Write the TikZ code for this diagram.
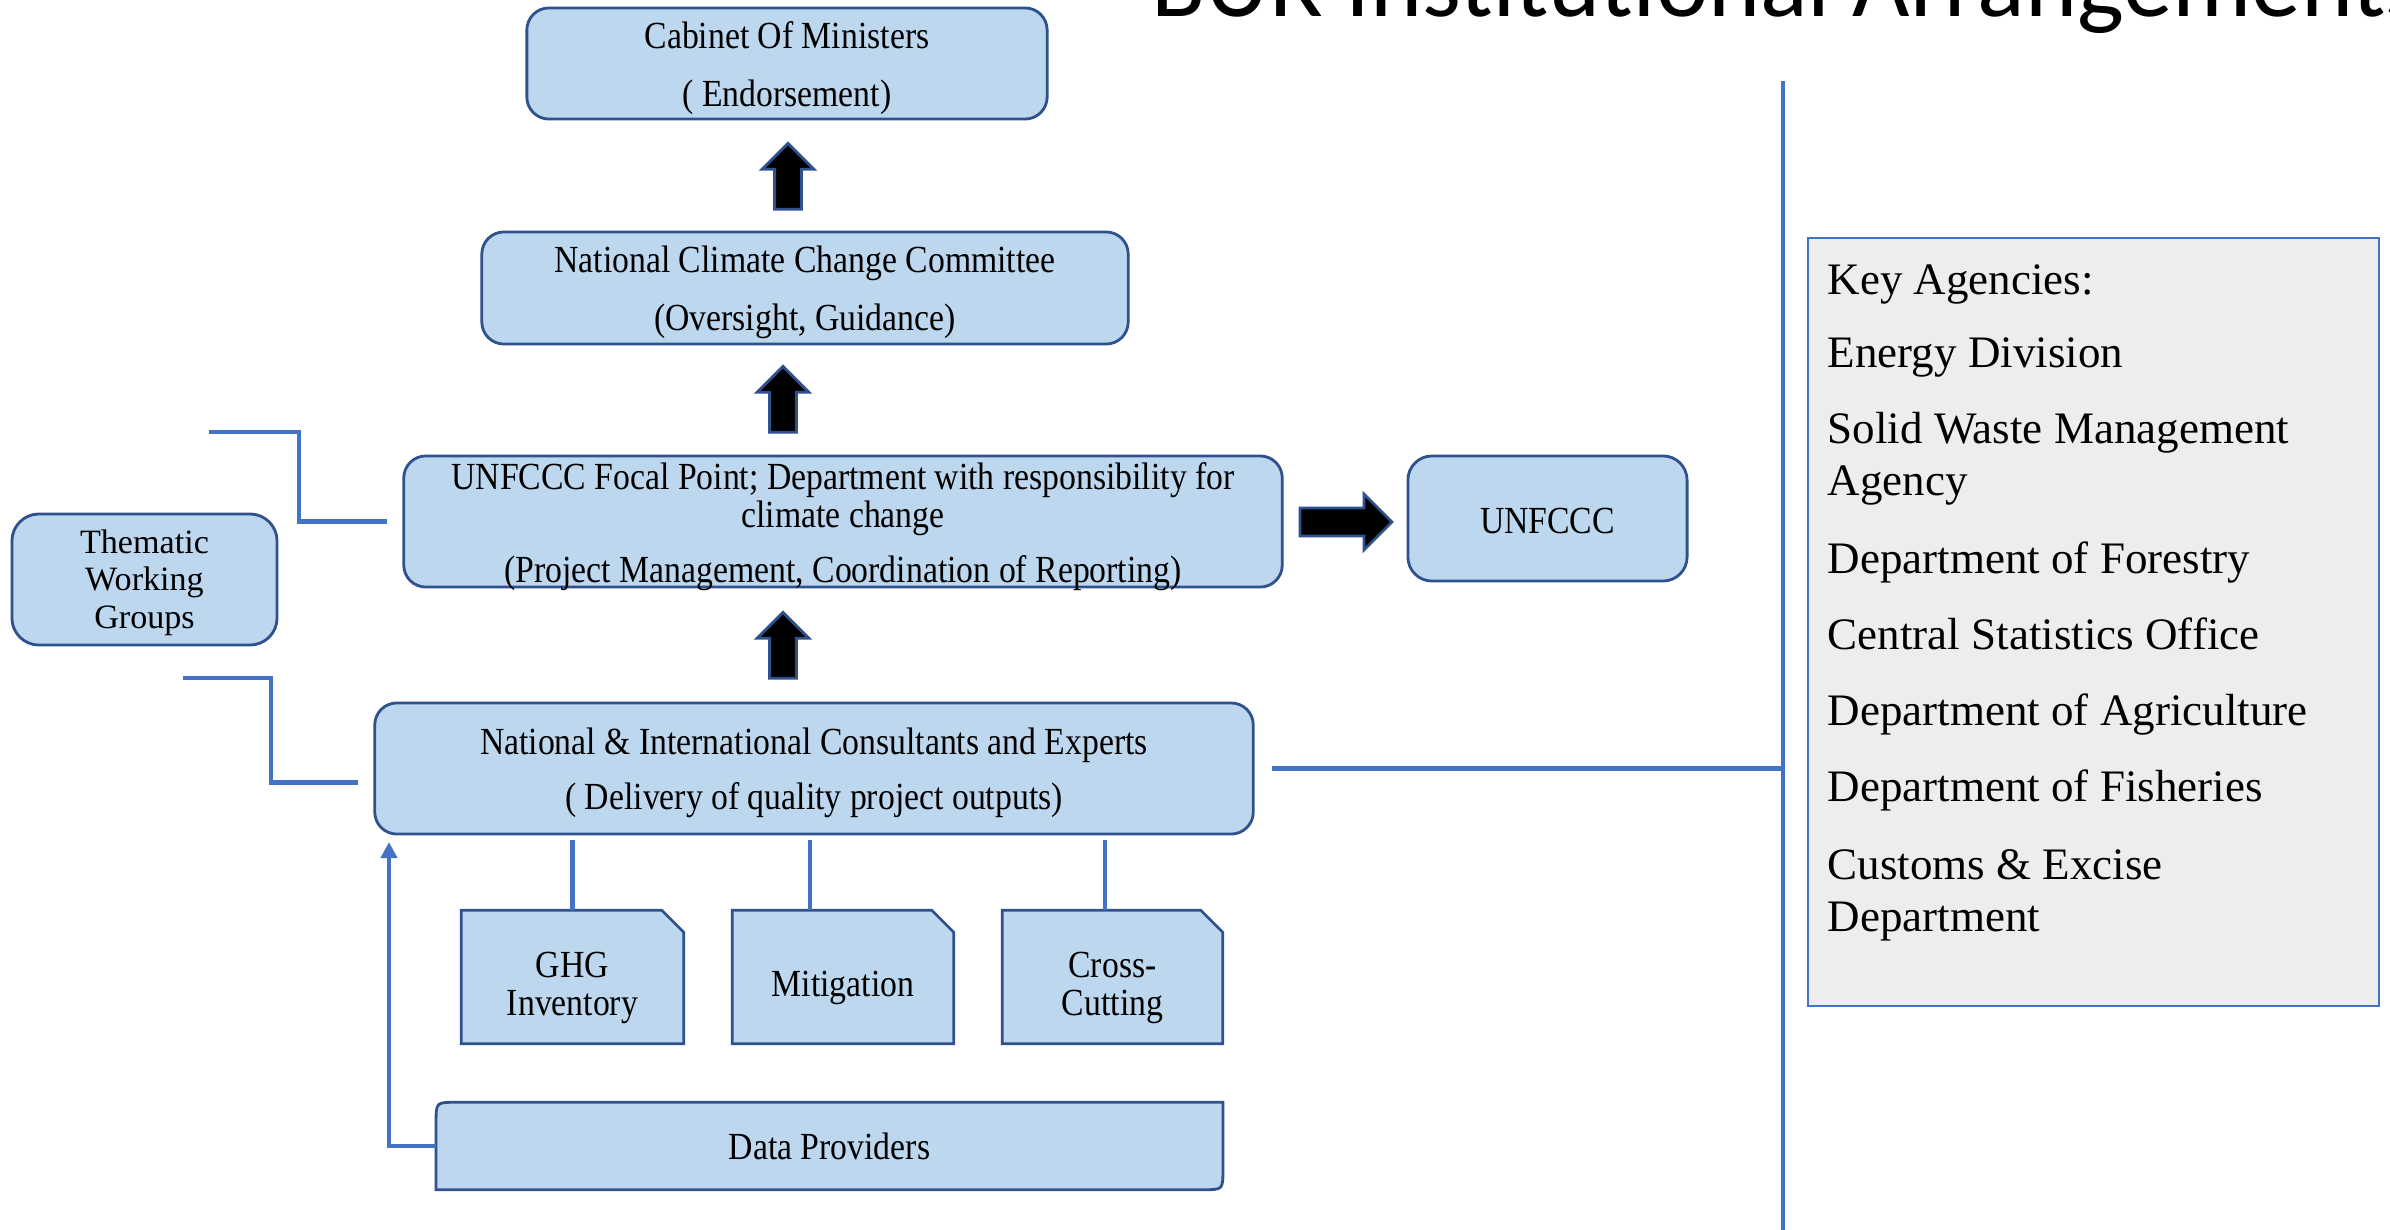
\documentclass[tikz,border=0pt]{standalone}
\usepackage{fontspec}
\setmainfont{Liberation Serif}
\newfontfamily\titlefont{Carlito}
\newfontfamily\narrowserif[FakeStretch=0.88]{Liberation Serif}
\usetikzlibrary{shapes.arrows,arrows.meta,calc}
\definecolor{boxfill}{HTML}{BDD7EE}
\definecolor{boxline}{HTML}{2F528F}
\definecolor{conn}{HTML}{4472C4}
\definecolor{keyfill}{HTML}{EDEDED}
\newcommand\bxfont{\narrowserif\fontsize{10.9}{10.8}\selectfont\lineskiplimit=-6pt\lineskip=0pt}
\newcommand\twfont{\fontsize{9.7}{10.8}\selectfont}
\newcommand\kyfont{\fontsize{12.8}{14.8}\selectfont}
\pgfdeclarelayer{background}
\pgfdeclarelayer{canvas}
\pgfsetlayers{canvas,background,main}
\begin{document}
\begin{tikzpicture}[x=0.01cm,y=-0.01cm,
  box/.style={draw=boxline, fill=boxfill, line width=0.8pt, rounded corners=0.22cm,
              inner sep=0pt, align=center, font=\bxfont},
  plainbox/.style={inner sep=0pt, align=center, font=\bxfont},
  boxshape/.style={draw=boxline, fill=boxfill, line width=0.8pt},
  link/.style={draw=conn, line width=1.15pt},
  blockarrow/.style={single arrow, draw=boxline, fill=black, line width=0.8pt,
              inner xsep=0pt, single arrow tip angle=90},
  uparrow/.style={blockarrow, rotate=90, inner ysep=0.12cm, minimum height=0.66cm,
              single arrow head extend=0.125cm},
  keytext/.style={anchor=base west, inner sep=0pt, font=\kyfont},
]
\useasboundingbox (0,0) rectangle (2390,1230);
\begin{pgfonlayer}{canvas}
  \fill[white] (0,0) rectangle (2390,1230);
\end{pgfonlayer}

% title (cut at the top of the page)
\begin{scope}
  \clip (0,0) rectangle (2390,1230);
  \node[anchor=base west, inner sep=0pt, font=\titlefont\fontsize{28.2}{30}\selectfont] (title) at (1151,17) {BUR Institutional Arrangements};
\end{scope}

% main boxes
\node[box, minimum width=5.20cm, minimum height=1.11cm] (cab) at (787,63.5)
  {\rule{0pt}{10.2pt}Cabinet Of Ministers\\[5.7pt]( Endorsement)};
\node[box, minimum width=6.46cm, minimum height=1.12cm] (nccc) at (805,288)
  {\rule{0pt}{10.2pt}National Climate Change Committee\\[5.7pt](Oversight, Guidance)};
\node[plainbox, minimum width=8.78cm, minimum height=1.31cm] (focal) at (843,521.5)
  {\rule{0pt}{10.6pt}UNFCCC Focal Point; Department with responsibility for\\climate change\\[4.8pt](Project Management, Coordination of Reporting)};
\node[box, rounded corners=0.24cm, minimum width=2.79cm, minimum height=1.25cm] (unfccc) at (1547.5,518.5)
  {\rule{0pt}{8.9pt}UNFCCC};
\node[box, minimum width=8.78cm, minimum height=1.31cm] (cons) at (814,768.5)
  {\rule{0pt}{10.2pt}National \& International Consultants and Experts\\[4.8pt]( Delivery of quality project outputs)};
\node[box, font=\twfont, rounded corners=0.27cm, minimum width=2.65cm, minimum height=1.31cm] (tw) at (144.5,579.5)
  {\rule{0pt}{8.6pt}Thematic\\Working\\Groups};

% note boxes and data providers (shapes drawn on background)
\node[plainbox, minimum width=2.21cm, minimum height=1.32cm] (ghg) at (572.5,977) {\rule{0pt}{13.2pt}GHG\\Inventory};
\node[plainbox, minimum width=2.20cm, minimum height=1.32cm] (mit) at (843,977) {\rule{0pt}{13.7pt}Mitigation};
\node[plainbox, minimum width=2.19cm, minimum height=1.32cm] (cross) at (1112.5,977) {\rule{0pt}{13.2pt}Cross-\\Cutting};
\node[plainbox, minimum width=7.85cm, minimum height=0.86cm] (dp) at (829.5,1146) {Data Providers};
\begin{pgfonlayer}{background}
  \filldraw[boxshape, rounded corners=0.22cm] ([xshift=-4.39cm,yshift=-0.655cm]focal.center)
    rectangle ([xshift=4.39cm,yshift=0.655cm]focal.center);
  \foreach \n in {ghg,mit,cross} {
    \filldraw[boxshape] (\n.south west) -- (\n.north west) -- ([xshift=-0.22cm]\n.north east)
      -- ([yshift=-0.22cm]\n.north east) -- (\n.south east) -- cycle;
  }
  \filldraw[boxshape] ([yshift=-0.2cm]dp.north west) .. controls (dp.north west) .. ([xshift=0.2cm]dp.north west)
    -- (dp.north east) -- ([yshift=0.2cm]dp.south east) .. controls (dp.south east) .. ([xshift=-0.2cm]dp.south east)
    -- (dp.south west) -- cycle;
\end{pgfonlayer}

% block arrows
\node[uparrow] (a1) at (788,183) {};
\node[uparrow] (a2) at (783,406) {};
\node[uparrow] (a3) at (783,652) {};
\node[blockarrow, inner ysep=0.125cm, minimum height=0.92cm, single arrow head extend=0.14cm] (a4) at (1339,522) {};

% thin connectors
\coordinate (e1) at (209,432);
\coordinate (e2) at (183,678);
\draw[link] (e1) -- ++(90,0) |- ([xshift=-0.16cm]focal.west);
\draw[link] (e2) -- ++(88,0) |- ([xshift=-0.15cm,yshift=-0.14cm]cons.west);
\draw[link] (ghg.north) -- ++(0,-70);
\draw[link] ([xshift=-0.33cm]mit.north) -- ++(0,-70);
\draw[link] ([xshift=-0.075cm]cross.north) -- ++(0,-70);
\coordinate (fbtip) at (389,842);
\draw[link, -{Triangle[width=4.6pt,length=4.6pt]}] (dp.west) -| (fbtip);

% right side
\coordinate (vtop) at (1783,81);
\coordinate (vbot) at (1783,1230);
\draw[link, line width=1.4pt] (vtop) -- (vbot);
\draw[link] ([xshift=0.17cm]cons.east) -- (cons.east -| vtop);

\node[draw=conn, fill=keyfill, line width=0.6pt, minimum width=5.71cm, minimum height=7.68cm, inner sep=0pt] (keybox) at (2093.5,622) {};
\foreach \t/\y [count=\i] in {Key Agencies:/294, Energy Division/367, Solid Waste Management/443, Agency/495,
  Department of Forestry/573, Central Statistics Office/649, Department of Agriculture/725,
  Department of Fisheries/801, Customs \& Excise/879, Department/931} {
  \node[keytext] (key\i) at (1827,\y) {\t};
}
\end{tikzpicture}
\end{document}
